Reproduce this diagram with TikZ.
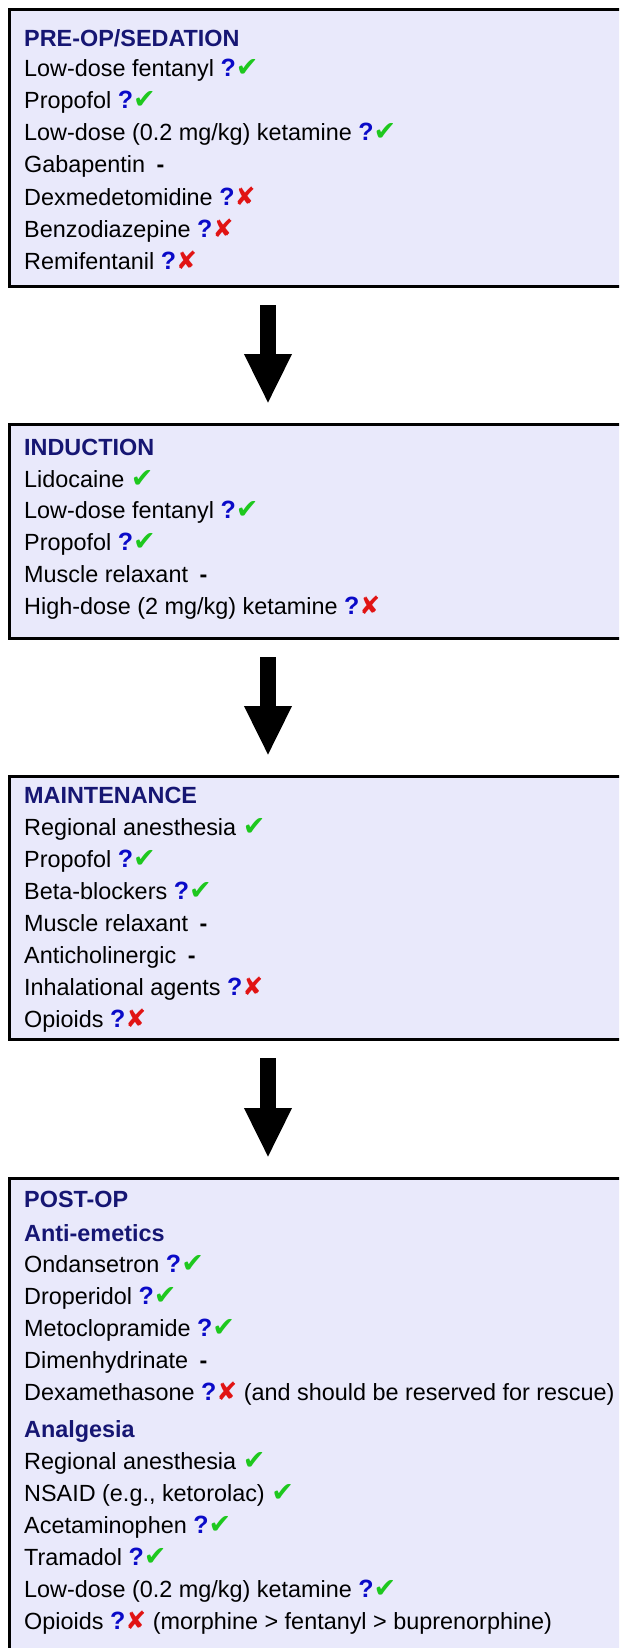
\documentclass[tikz,border=0pt]{standalone}
\usepackage{fontspec}
\setmainfont{Liberation Sans}
\newfontfamily\dingfont{DejaVu Sans}
\usepackage{xcolor}
\usetikzlibrary{arrows.meta, positioning}

\definecolor{boxfill}{RGB}{233,233,251}
\definecolor{headblue}{RGB}{22,22,115}
\definecolor{qblue}{RGB}{10,10,200}
\definecolor{okgreen}{RGB}{30,200,30}
\definecolor{nored}{RGB}{225,20,20}

\newcommand{\qm}{\textcolor{qblue}{\fontsize{25}{28}\selectfont\textbf{?}}}
\newcommand{\yes}{{\dingfont\fontsize{27}{28}\selectfont\textcolor{okgreen}{✔}}}
\newcommand{\nope}{{\dingfont\fontsize{25}{28}\selectfont\textcolor{nored}{✘}}}
\newcommand{\na}{\hspace{5pt}\textbf{-}}

\begin{document}
\begin{tikzpicture}[x=1pt, y=-1pt,
    font=\fontsize{23.4}{28}\selectfont,
    phase/.style={draw=black, line width=3pt, fill=boxfill, anchor=north west,
                  minimum width=640pt, inner sep=0pt},
    head/.style={anchor=base west, inner sep=0pt, text=headblue,
                 font=\fontsize{23.4}{28}\selectfont\bfseries},
    item/.style={anchor=base west, inner sep=0pt},
    down/.style={line width=16pt, -{Triangle[width=44pt, length=50pt]},
                 shorten <=17pt, shorten >=19pt}]
    \useasboundingbox (0,0) rectangle (619,1648);
    \clip (0,0) rectangle (619,1648);

    \node[phase, minimum height=277pt] (pre) at (8,8) {};
    \node[phase, minimum height=214pt] (ind) at (8,423) {};
    \node[phase, minimum height=263pt] (mnt) at (8,775) {};
    \node[phase, minimum height=520pt] (post) at (8,1177) {};

    \coordinate (axis) at (268,0);
    \draw[down] (pre.south -| axis) -- (ind.north -| axis);
    \draw[down] (ind.south -| axis) -- (mnt.north -| axis);
    \draw[down] (mnt.south -| axis) -- (post.north -| axis);

    \node[head] (preT) at (24,47) {PRE-OP/SEDATION};
    \foreach \txt [count=\i from 0] in {Low-dose fentanyl \qm\yes, Propofol \qm\yes,
        Low-dose (0.2 mg/kg) ketamine \qm\yes, Gabapentin \na, Dexmedetomidine \qm\nope,
        Benzodiazepine \qm\nope, Remifentanil \qm\nope}
        \node[item] (pre-\i) at (24, {77+32*\i}) {\txt};

    \node[head] (indT) at (24,455) {INDUCTION};
    \foreach \txt [count=\i from 0] in {Lidocaine \yes, Low-dose fentanyl \qm\yes,
        Propofol \qm\yes, Muscle relaxant \na, High-dose (2 mg/kg) ketamine \qm\nope}
        \node[item] (ind-\i) at (24, {487+31.8*\i}) {\txt};

    \node[head] (mntT) at (24,803) {MAINTENANCE};
    \foreach \txt [count=\i from 0] in {Regional anesthesia \yes, Propofol \qm\yes,
        Beta-blockers \qm\yes, Muscle relaxant \na, Anticholinergic \na,
        Inhalational agents \qm\nope, Opioids \qm\nope}
        \node[item] (mnt-\i) at (24, {835+32*\i}) {\txt};

    \node[head] (postT) at (24,1207) {POST-OP};
    \node[head] (emT) at (24,1241) {Anti-emetics};
    \foreach \txt [count=\i from 0] in {Ondansetron \qm\yes, Droperidol \qm\yes,
        Metoclopramide \qm\yes, Dimenhydrinate \na,
        Dexamethasone \qm\nope{} (and should be reserved for rescue)}
        \node[item] (em-\i) at (24, {1272+32*\i}) {\txt};

    \node[head] (anT) at (24,1437) {Analgesia};
    \foreach \txt [count=\i from 0] in {Regional anesthesia \yes,
        {NSAID (e.g., ketorolac) \yes}, Acetaminophen \qm\yes, Tramadol \qm\yes,
        Low-dose (0.2 mg/kg) ketamine \qm\yes,
        Opioids \qm\nope{} (morphine > fentanyl > buprenorphine)}
        \node[item] (an-\i) at (24, {1469+32*\i}) {\txt};
\end{tikzpicture}
\end{document}
